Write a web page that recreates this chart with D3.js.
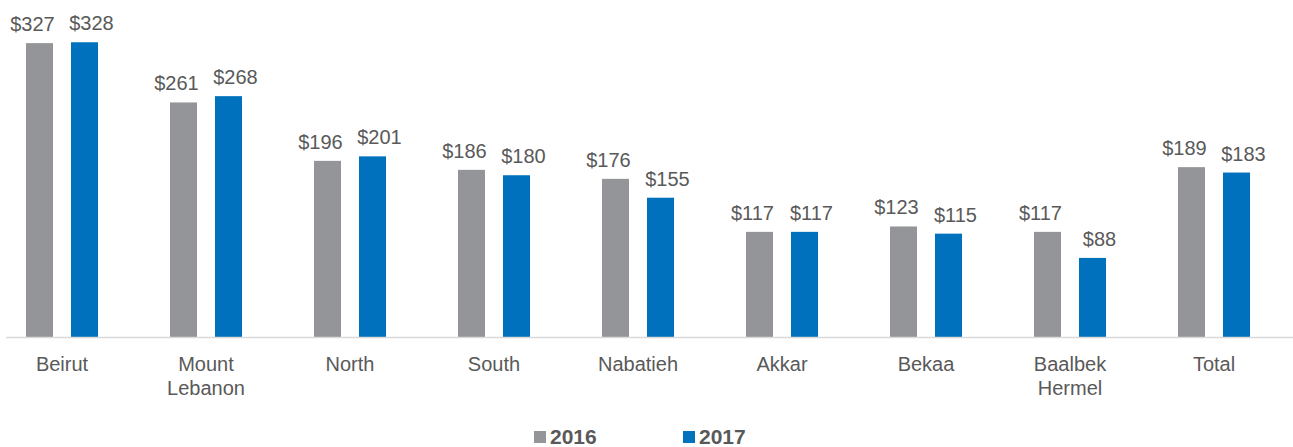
<!DOCTYPE html>
<html>
<head>
<meta charset="utf-8">
<script src="https://cdnjs.cloudflare.com/ajax/libs/d3/7.8.5/d3.min.js"></script>
<style>
    body { margin: 0; background: #fff; }
    #graphDiv { width: 1293px; height: 447px; }
    text { font-family: "Liberation Sans", Arial, Helvetica, sans-serif; fill: #595959; }
</style>
</head>
<body>
<div id="graphDiv"></div>
<script>
// data //
var categories = ["Beirut", "Mount\nLebanon", "North", "South", "Nabatieh", "Akkar", "Bekaa", "Baalbek\nHermel", "Total"];
var seriesNames = ["2016", "2017"];
var values2016 = [327, 261, 196, 186, 176, 117, 123, 117, 189];
var values2017 = [328, 268, 201, 180, 155, 117, 115, 88, 183];
var colors = ["#939598", "#0071bc"];

var w = 1293, h = 447;
var baseY = 337;

var svg = d3.select("#graphDiv")
    .append("svg")
    .attr("width", w)
    .attr("height", h);

var xScale = d3.scaleBand()
    .domain(categories)
    .range([-10, 1286]);

var mid = xScale.bandwidth() / 2;

// bars
var xInner = d3.scaleBand()
    .domain(seriesNames)
    .range([mid - 36, mid + 36])
    .paddingInner(0.4);

// labels sit a bit wider apart than the bars
var xLabel = d3.scalePoint()
    .domain(seriesNames)
    .range([mid - 29.5, mid + 29.5]);

var yScale = d3.scaleLinear()
    .domain([0, 375])
    .range([baseY, 0]);

var rows = categories.map(function (c, i) {
    return [
        {cat: c, key: "2016", v: values2016[i], color: colors[0]},
        {cat: c, key: "2017", v: values2017[i], color: colors[1]}
    ];
});

var groups = svg.append("g").attr("class", "bars")
    .selectAll("g")
    .data(rows)
    .enter().append("g")
    .attr("transform", function (d) { return "translate(" + xScale(d[0].cat) + ",0)"; });

groups.selectAll("rect")
    .data(function (d) { return d; })
    .enter().append("rect")
    .attr("x", function (d) { return xInner(d.key); })
    .attr("width", xInner.bandwidth())
    .attr("y", function (d) { return yScale(d.v); })
    .attr("height", function (d) { return baseY - yScale(d.v); })
    .attr("fill", function (d) { return d.color; });

// value labels
groups.selectAll("text.val")
    .data(function (d) { return d; })
    .enter().append("text")
    .attr("class", "val")
    .attr("x", function (d) { return xLabel(d.key); })
    .attr("y", function (d) { return yScale(d.v) - 12; })
    .attr("text-anchor", "middle")
    .style("font-size", "20px")
    .text(function (d) { return "$" + d.v; });

// x axis line
svg.append("line")
    .attr("x1", 6).attr("x2", w)
    .attr("y1", baseY + 0.5).attr("y2", baseY + 0.5)
    .attr("stroke", "#d9d9d9")
    .attr("stroke-width", 1.5);

// category labels (multi-line)
var catLabels = svg.append("g").attr("class", "x labels")
    .selectAll("text")
    .data(categories)
    .enter().append("text")
    .attr("text-anchor", "middle")
    .attr("x", function (d) { return xScale(d) + mid; })
    .attr("y", 371)
    .style("font-size", "20px");

catLabels.selectAll("tspan")
    .data(function (d) { return d.split("\n"); })
    .enter().append("tspan")
    .attr("x", function () { return this.parentNode.getAttribute("x"); })
    .attr("dy", function (d, i) { return i ? 24 : 0; })
    .text(function (d) { return d; });

// legend
var legendX = [534, 683];
var legend = svg.append("g").attr("class", "legend")
    .selectAll("g")
    .data(seriesNames)
    .enter().append("g")
    .attr("transform", function (d, i) { return "translate(" + legendX[i] + ",0)"; });

legend.append("rect")
    .attr("x", 0).attr("y", 431)
    .attr("width", 12).attr("height", 12)
    .attr("fill", function (d, i) { return colors[i]; });

legend.append("text")
    .attr("x", 16).attr("y", 444)
    .style("font-size", "21px")
    .style("font-weight", "bold")
    .text(function (d) { return d; });
</script>
</body>
</html>
